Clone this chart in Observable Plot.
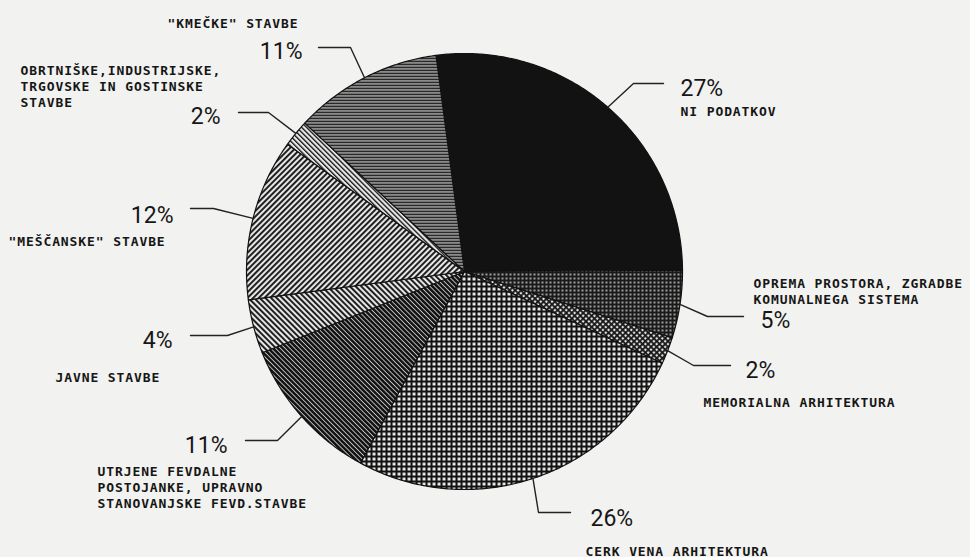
<!DOCTYPE html>
<html><head><meta charset="utf-8">
<script src="https://cdn.jsdelivr.net/npm/d3@7"></script>
<script src="https://cdn.jsdelivr.net/npm/@observablehq/plot@0.6"></script>
<style>
html,body{margin:0;padding:0;background:#f2f2f0;}
#chart{width:970px;height:557px;overflow:hidden;}
</style>
</head><body><div id="chart"></div>
<script>
// ---- data (clockwise from the top) ----
const categories = [
  "NI PODATKOV",
  "OPREMA PROSTORA, ZGRADBE KOMUNALNEGA SISTEMA",
  "MEMORIALNA ARHITEKTURA",
  "CERK VENA ARHITEKTURA",
  "UTRJENE FEVDALNE POSTOJANKE, UPRAVNO STANOVANJSKE FEVD.STAVBE",
  "JAVNE STAVBE",
  "\"MEŠČANSKE\" STAVBE",
  "OBRTNIŠKE,INDUSTRIJSKE, TRGOVSKE IN GOSTINSKE STAVBE",
  "\"KMEČKE\" STAVBE"
];
const values = [27, 5, 2, 26, 11, 4, 12, 2, 11];
const labelLines = [
  ["NI PODATKOV"],
  ["OPREMA PROSTORA, ZGRADBE", "KOMUNALNEGA SISTEMA"],
  ["MEMORIALNA ARHITEKTURA"],
  ["CERK VENA ARHITEKTURA"],
  ["UTRJENE FEVDALNE", "POSTOJANKE, UPRAVNO", "STANOVANJSKE FEVD.STAVBE"],
  ["JAVNE STAVBE"],
  ["\"MEŠČANSKE\" STAVBE"],
  ["OBRTNIŠKE,INDUSTRIJSKE,", "TRGOVSKE IN GOSTINSKE", "STAVBE"],
  ["\"KMEČKE\" STAVBE"]
];
const percentLabels = values.map(v => v + "%");

// ---- layout (pixel coordinates) ----
const W = 970, H = 557;
const pie = {cx: 464, cy: 271, r: 218, startDeg: -7.5};
const layout = [
  {elbow: [633, 83],  end: [663, 83],  pct: [680, 95, "start"],  lab: [680, 115, "start"]},
  {elbow: [707, 316], end: [743, 316], pct: [760, 327, "start"], lab: [753, 303, "start"]},
  {elbow: [693, 365], end: [730, 365], pct: [745, 377, "start"], lab: [703, 406, "start"]},
  {elbow: [538, 512], end: [570, 512], pct: [590, 525, "start"], lab: [585, 555, "start"]},
  {elbow: [277, 440], end: [245, 440], pct: [227, 452, "end"],   lab: [97, 507, "start"]},
  {elbow: [227, 335], end: [190, 335], pct: [172, 347, "end"],   lab: [55, 381, "start"]},
  {elbow: [213, 208], end: [190, 208], pct: [173, 222, "end"],   lab: [8, 245, "start"]},
  {elbow: [268, 112], end: [238, 112], pct: [220, 123, "end"],   lab: [20, 106, "start"]},
  {elbow: [350, 47],  end: [318, 47],  pct: [302, 58, "end"],    lab: [298, 27, "end"]}
];

// ---- geometry from the data ----
const a0 = pie.startDeg * Math.PI / 180;
const arcs = d3.pie().sort(null).value(d => d).startAngle(a0).endAngle(a0 + 2 * Math.PI)(values);
const px = t => pie.cx + pie.r * Math.sin(t);
const py = t => pie.cy - pie.r * Math.cos(t);

const slices = arcs.map((a, i) => {
  const pts = [{i, x: pie.cx, y: pie.cy}];
  const n = Math.max(4, Math.ceil((a.endAngle - a.startAngle) / 0.01));
  for (let k = 0; k <= n; k++) {
    const t = a.startAngle + (a.endAngle - a.startAngle) * k / n;
    pts.push({i, x: px(t), y: py(t)});
  }
  pts.push({i, x: pie.cx, y: pie.cy});
  return pts;
});

const leaderPts = arcs.flatMap((a, i) => {
  const m = (a.startAngle + a.endAngle) / 2;
  const L = layout[i];
  return [
    {i, x: px(m), y: py(m)},
    {i, x: L.elbow[0], y: L.elbow[1]},
    {i, x: L.end[0], y: L.end[1]}
  ];
});

const pctRows = percentLabels.map((t, i) => ({t, x: layout[i].pct[0], y: layout[i].pct[1], anchor: layout[i].pct[2]}));
const labRows = labelLines.map((lines, i) => ({t: lines.join("\n"), x: layout[i].lab[0], y: layout[i].lab[1], anchor: layout[i].lab[2]}));

const pctFont = {fontFamily: "Roboto, 'Liberation Sans', sans-serif", fontWeight: 400, fontSize: 23, fill: "#161616", lineAnchor: "bottom"};
const labFont = {fontFamily: "'DejaVu Sans Mono', 'Liberation Mono', monospace", fontWeight: "bold", fontSize: 13, fill: "#161616", lineAnchor: "bottom", lineHeight: 1.2};

const svg = Plot.plot({
  width: W, height: H,
  margin: 0,
  style: {background: "#f2f2f0", overflow: "visible"},
  x: {domain: [0, W], axis: null},
  y: {domain: [H, 0], axis: null},
  marks: [
    ...slices.map((pts, i) => Plot.line(pts, {x: "x", y: "y", fill: `url(#pat${i})`, stroke: "#111", strokeWidth: 1.2, strokeLinejoin: "round"})),
    Plot.line(leaderPts, {x: "x", y: "y", z: "i", stroke: "#222", strokeWidth: 1.4}),
    Plot.text(pctRows.filter(d => d.anchor === "start"), {x: "x", y: "y", text: "t", textAnchor: "start", ...pctFont}),
    Plot.text(pctRows.filter(d => d.anchor === "end"), {x: "x", y: "y", text: "t", textAnchor: "end", ...pctFont}),
    Plot.text(labRows.filter(d => d.anchor === "start"), {x: "x", y: "y", text: "t", textAnchor: "start", ...labFont}),
    Plot.text(labRows.filter(d => d.anchor === "end"), {x: "x", y: "y", text: "t", textAnchor: "end", ...labFont})
  ]
});

// slightly wider letter spacing for the typewriter-style labels
d3.select(svg).selectAll("g[font-family*='Mono']").attr("letter-spacing", "0.9px");

// ---- hatch patterns ----
const defs = d3.select(svg).insert("defs", ":first-child");
function solid(id, c) {
  const p = defs.append("pattern").attr("id", id).attr("patternUnits", "userSpaceOnUse").attr("width", 4).attr("height", 4);
  p.append("rect").attr("width", 4).attr("height", 4).attr("fill", c);
}
function lines(id, gap, w, rot, bg, fg) {
  const p = defs.append("pattern").attr("id", id).attr("patternUnits", "userSpaceOnUse")
    .attr("width", gap).attr("height", gap).attr("patternTransform", `rotate(${rot})`);
  p.append("rect").attr("width", gap).attr("height", gap).attr("fill", bg);
  p.append("rect").attr("x", 0).attr("y", 0).attr("width", w).attr("height", gap).attr("fill", fg);
}
function grid(id, gap, w, rot, bg, fg) {
  const p = defs.append("pattern").attr("id", id).attr("patternUnits", "userSpaceOnUse")
    .attr("width", gap).attr("height", gap).attr("patternTransform", `rotate(${rot})`);
  p.append("rect").attr("width", gap).attr("height", gap).attr("fill", bg);
  p.append("rect").attr("width", w).attr("height", gap).attr("fill", fg);
  p.append("rect").attr("width", gap).attr("height", w).attr("fill", fg);
}
function dots(id, gap, s, bg, fg) {
  const p = defs.append("pattern").attr("id", id).attr("patternUnits", "userSpaceOnUse").attr("width", gap).attr("height", gap);
  p.append("rect").attr("width", gap).attr("height", gap).attr("fill", bg);
  p.append("rect").attr("x", (gap - s) / 2).attr("y", (gap - s) / 2).attr("width", s).attr("height", s).attr("fill", fg);
}
solid("pat0", "#121212");
dots("pat1", 4, 1.7, "#1a1a1a", "#d0d0d0");
grid("pat2", 4, 1.8, 45, "#e0e0e0", "#161616");
grid("pat3", 5, 2.1, 0, "#f0f0f0", "#121212");
lines("pat4", 3.4, 2.5, -45, "#c8c8c8", "#121212");
lines("pat5", 4, 1.9, -45, "#e6e6e6", "#161616");
lines("pat6", 4, 1.9, 45, "#e6e6e6", "#161616");
lines("pat7", 3.5, 1.4, -45, "#eeeeee", "#1c1c1c");
lines("pat8", 3, 1.8, 90, "#d6d6d6", "#161616");

document.getElementById("chart").appendChild(svg);
</script>
</body></html>
